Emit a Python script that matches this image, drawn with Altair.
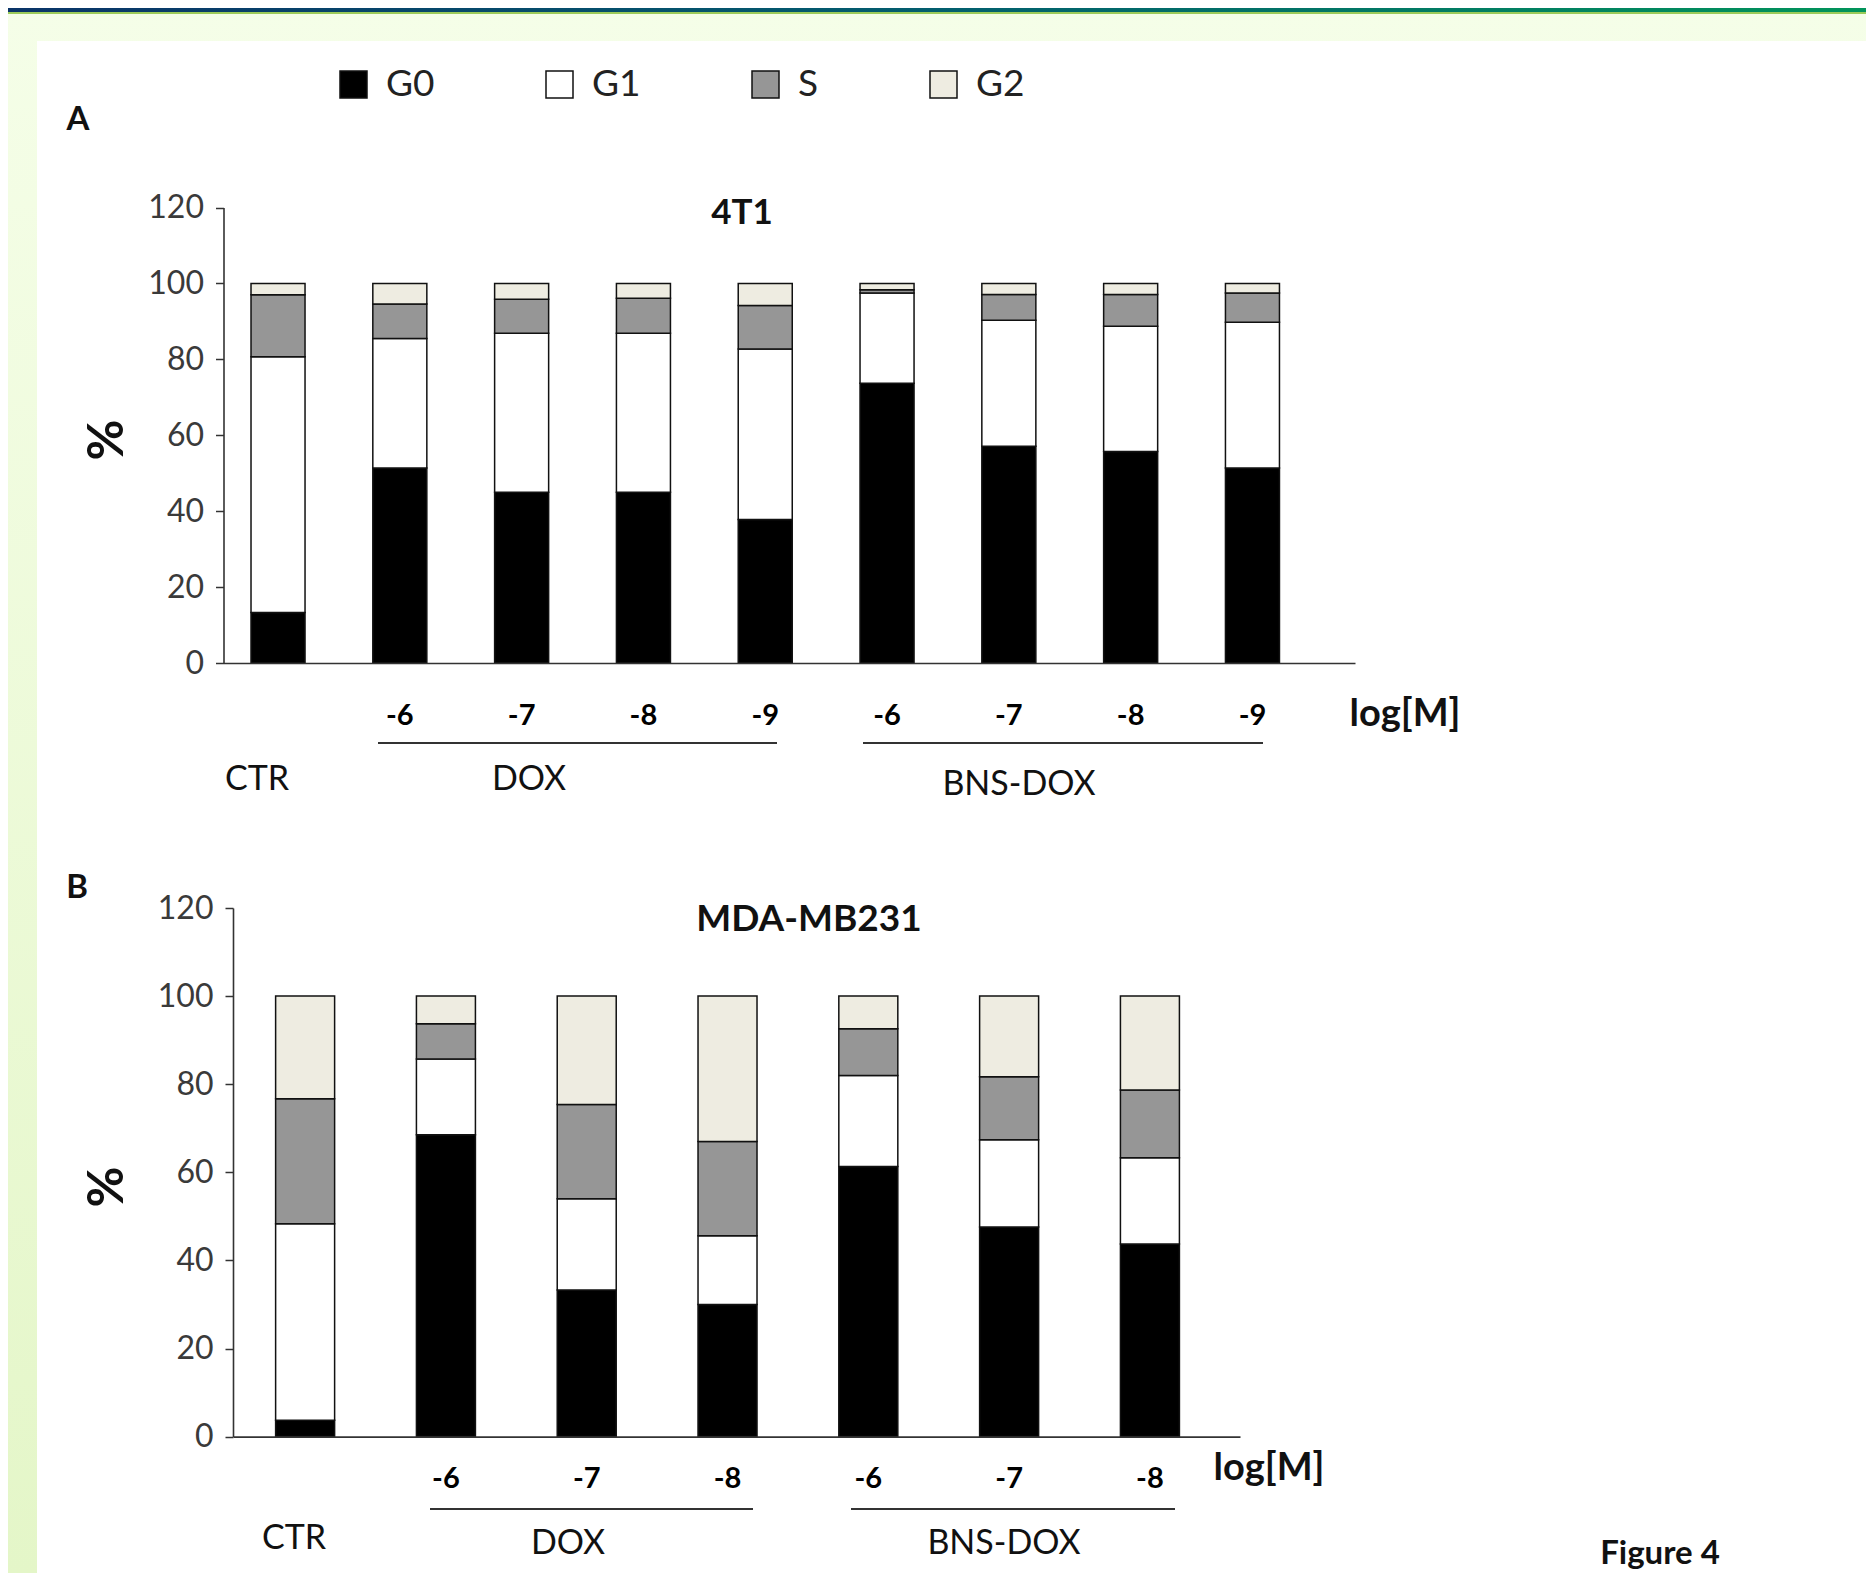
import altair as alt
import pandas as pd

# ---------------- data ----------------
phases = ["G0", "G1", "S", "G2"]
phase_colors = ["#000000", "#FFFFFF", "#969696", "#EEECE1"]

cats_a = ["CTR", "DOX -6", "DOX -7", "DOX -8", "DOX -9",
          "BNS-DOX -6", "BNS-DOX -7", "BNS-DOX -8", "BNS-DOX -9"]
g0_a = [13.3, 51.4, 45.0, 45.0, 37.8, 73.7, 57.1, 55.7, 51.4]
g1_a = [67.4, 34.1, 41.9, 41.9, 44.9, 23.8, 33.2, 33.0, 38.4]
s_a = [16.3, 9.1, 8.9, 9.2, 11.5, 0.8, 6.8, 8.4, 7.7]
g2_a = [3.0, 5.4, 4.2, 3.9, 5.8, 1.7, 2.9, 2.9, 2.5]

cats_b = ["CTR", "DOX -6", "DOX -7", "DOX -8",
          "BNS-DOX -6", "BNS-DOX -7", "BNS-DOX -8"]
g0_b = [3.7, 68.5, 33.3, 30.0, 61.3, 47.6, 43.7]
g1_b = [44.6, 17.2, 20.7, 15.6, 20.7, 19.8, 19.6]
s_b = [28.4, 8.0, 21.4, 21.4, 10.6, 14.3, 15.4]
g2_b = [23.3, 6.3, 24.6, 33.0, 7.4, 18.3, 21.3]

y_ticks = [0, 20, 40, 60, 80, 100, 120]


def build(cats, cols):
    rows = []
    for i, c in enumerate(cats):
        for k, p in enumerate(phases):
            rows.append({"cat": c, "phase": p, "ord": k, "val": cols[k][i]})
    return pd.DataFrame(rows)


df_a = build(cats_a, [g0_a, g1_a, s_a, g2_a])
df_b = build(cats_b, [g0_b, g1_b, s_b, g2_b])

# ---------------- layout ----------------
W, H = 1858, 1565
FONT = "Lato"

color_enc = alt.Color(
    "phase:N",
    scale=alt.Scale(domain=phases, range=phase_colors),
    legend=alt.Legend(
        orient="none", legendX=327, legendY=58, direction="horizontal",
        columns=4, gridAlign="none", title=None, symbolType="square",
        symbolSize=729, symbolStrokeColor="#111", symbolStrokeWidth=1.5,
        symbolOpacity=1, labelFont=FONT, labelFontSize=37, labelColor="#222",
        labelOffset=14, columnPadding=106,
    ),
)

LABEL_EXPR = "indexof(datum.value, ' ') > 0 ? split(datum.value, ' ')[1] : ''"


def panel(df, cats, xrange, yrange, pi, po, align, xlab_pad):
    return alt.Chart(df).mark_bar(stroke="#111", strokeWidth=1.5).encode(
        x=alt.X(
            "cat:N", sort=cats,
            scale=alt.Scale(domain=cats, range=xrange, paddingInner=pi,
                            paddingOuter=po, align=align),
            axis=alt.Axis(
                orient="bottom", offset=yrange[0] - H, title=None,
                ticks=False, tickSize=0, labelExpr=LABEL_EXPR,
                labelFont=FONT, labelFontWeight="bold", labelFontSize=29,
                labelColor="#000", labelPadding=xlab_pad,
                labelBaseline="middle", labelAngle=0, labelOverlap=False,
                domainColor="#333", domainWidth=1.6, zindex=2,
            ),
        ),
        y=alt.Y(
            "val:Q", stack="zero",
            scale=alt.Scale(domain=[0, 120], range=yrange, nice=False),
            axis=alt.Axis(
                orient="left", offset=-xrange[0], values=y_ticks, title=None,
                grid=False, tickSize=8, tickColor="#333", tickWidth=1.5,
                domainColor="#333", domainWidth=1.6, labelFont=FONT,
                labelFontSize=32, labelColor="#3a3a3a", labelPadding=12,
                zindex=2,
            ),
        ),
        color=color_enc,
        order=alt.Order("ord:Q", sort="ascending"),
    )


panel_a = panel(df_a, cats_a, [215.5, 1347], [655, 199.5], 0.5565, 0.423, 0.267, 52)
panel_b = panel(df_b, cats_b, [225, 1232], [1428.6, 900], 0.581, 0.3665, 0.413, 42)

base = alt.Chart(pd.DataFrame({"k": [0]}))


def txt(s, x, y, size, weight="normal", align="center", baseline="middle",
        angle=0, color="#111"):
    return base.mark_text(text=s, fontSize=size, fontWeight=weight,
                          align=align, baseline=baseline, angle=angle,
                          color=color, font=FONT).encode(
        x=alt.value(x), y=alt.value(y))


def hline(x1, x2, y, color="#333", width=2):
    return base.mark_rule(color=color, strokeWidth=width).encode(
        x=alt.value(x1), x2=alt.value(x2), y=alt.value(y))


def box(x1, x2, y1, y2, fill):
    return base.mark_rect(fill=fill, stroke=None).encode(
        x=alt.value(x1), x2=alt.value(x2), y=alt.value(y1), y2=alt.value(y2))


bg = box(0, W, 0, H, alt.LinearGradient(
    gradient="linear", x1=0, x2=0, y1=0, y2=1,
    stops=[alt.GradientStop(offset=0, color="#F5FEE8"),
           alt.GradientStop(offset=1, color="#E4F6C8")]))
topbar = box(0, W, 0, 4, alt.LinearGradient(
    gradient="linear", x1=0, x2=1, y1=0, y2=0,
    stops=[alt.GradientStop(offset=0, color="#0A3468"),
           alt.GradientStop(offset=0.5, color="#035E6E"),
           alt.GradientStop(offset=1, color="#02945A")]))
greenline = box(0, W, 4, 6, "#9CCB5A")
white = box(29, W, 33, H, "#FFFFFF")

annotations = [
    txt("A", 70, 112, 33, "bold"),
    txt("B", 69, 880, 33, "bold"),
    txt("4T1", 734, 205, 35, "bold"),
    txt("MDA-MB231", 801, 912, 37, "bold"),
    txt("%", 100, 432, 50, "bold", angle=270),
    txt("%", 100, 1179, 50, "bold", angle=270),
    txt("log[M]", 1397, 707, 38, "bold"),
    txt("log[M]", 1261, 1461, 38, "bold"),
    hline(370, 769, 735),
    hline(855, 1255, 735),
    hline(422, 745, 1501),
    hline(843, 1167, 1501),
    txt("CTR", 249, 772, 34),
    txt("DOX", 521, 772, 34),
    txt("BNS-DOX", 1011, 777, 34),
    txt("CTR", 286, 1531, 34),
    txt("DOX", 560, 1536, 34),
    txt("BNS-DOX", 996, 1536, 34),
    txt("Figure 4", 1652, 1563, 33, "bold", baseline="bottom"),
]

chart = alt.layer(
    bg, topbar, greenline, white, panel_a, panel_b, *annotations
).resolve_scale(
    x="independent", y="independent"
).properties(
    width=W, height=H, padding=0, background="#F5FEE8",
    autosize=alt.AutoSizeParams(type="none"),
).configure(font=FONT).configure_view(stroke=None)

chart.save("out.html", embed_options={"renderer": "svg", "actions": False})
